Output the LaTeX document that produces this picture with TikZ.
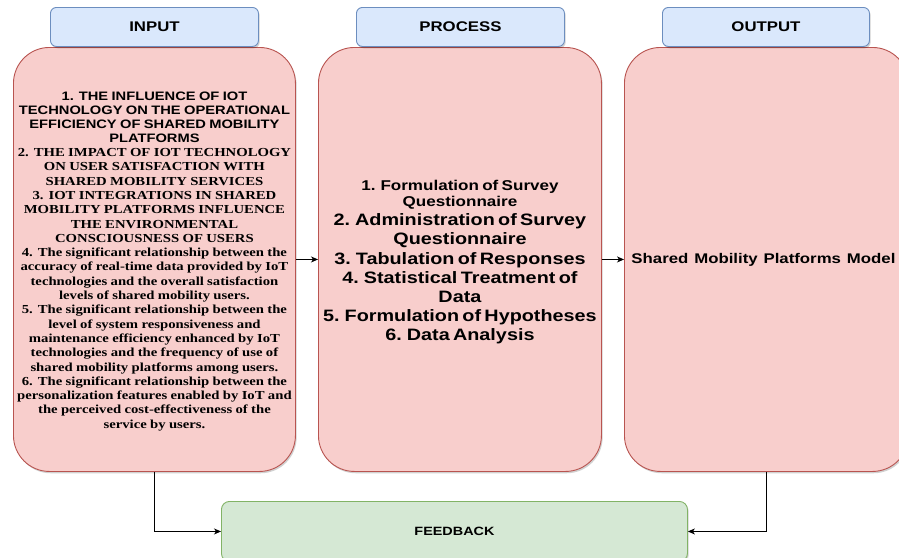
\documentclass[tikz,border=0pt]{standalone}
\usepackage{fontspec}
\usetikzlibrary{arrows.meta,shadows}
\newfontfamily\sansf[FakeStretch=1.2,WordSpace=1.25]{Liberation Sans}
\newfontfamily\serff[FakeStretch=1.2,WordSpace=1.2]{Liberation Serif}
\definecolor{hdrfill}{HTML}{DAE8FC}
\definecolor{hdrline}{HTML}{6C8EBF}
\definecolor{pinkfill}{HTML}{F8CECC}
\definecolor{pinkline}{HTML}{B85450}
\definecolor{grnfill}{HTML}{D5E8D4}
\definecolor{grnline}{HTML}{82B366}
\begin{document}
\begin{tikzpicture}[x=1pt,y=-1pt,
  softshadow/.style={drop shadow={shadow xshift=1.2pt, shadow yshift=-1.8pt, opacity=0.18, fill=black}},
  hdrbox/.style={draw=hdrline, fill=hdrfill, rounded corners=6pt, line width=0.9pt,
    minimum width=208pt, minimum height=39pt, inner sep=0pt, anchor=north west, softshadow,
    font=\sansf\bfseries\fontsize{14}{16}\selectfont},
  pinkbox/.style={draw=pinkline, fill=pinkfill, rounded corners=36pt, line width=0.9pt,
    inner sep=0pt, anchor=north west, minimum height=424pt, softshadow},
  grnbox/.style={draw=grnline, fill=grnfill, rounded corners=8pt, line width=0.9pt,
    inner sep=0pt, anchor=north west, minimum width=466pt, minimum height=60pt, softshadow,
    font=\sansf\bfseries\fontsize{12}{14}\selectfont},
  txt/.style={align=center, inner sep=0pt},
  arr/.style={draw=black, line width=0.9pt, -{Stealth[length=7pt,width=6pt,inset=2pt]}}]
\useasboundingbox (0,0) rectangle (899,557);
\clip (0,0) rectangle (899,557);

% main boxes
\node[pinkbox, minimum width=282pt] (inp) at (13,47) {};
\node[pinkbox, minimum width=283pt] (proc) at (318,47) {};
\node[pinkbox, minimum width=284pt] (out) at (624,47) {};

% headers
\node[hdrbox] (hin) at (50,7) {INPUT};
\node[hdrbox] (hproc) at (356,7) {PROCESS};
\node[hdrbox, minimum width=207pt] (hout) at (662,7) {OUTPUT};

% feedback
\node[grnbox] (fb) at (221,501) {FEEDBACK};

% texts
\node[txt, text width=330pt] (inptxt) at ([yshift=-2pt]inp.center) {%
{\sansf\bfseries\fontsize{12.25}{13.9}\selectfont 1. THE INFLUENCE OF IOT\\
TECHNOLOGY ON THE OPERATIONAL\\
EFFICIENCY OF SHARED MOBILITY\\
PLATFORMS\par}%
{\serff\bfseries\fontsize{12.25}{14.3}\selectfont 2. THE IMPACT OF IOT TECHNOLOGY\\
ON USER SATISFACTION WITH\\
SHARED MOBILITY SERVICES\\
3. IOT INTEGRATIONS IN SHARED\\
MOBILITY PLATFORMS INFLUENCE\\
THE ENVIRONMENTAL\\
CONSCIOUSNESS OF USERS\\
4. The significant relationship between the\\
accuracy of real-time data provided by IoT\\
technologies and the overall satisfaction\\
levels of shared mobility users.\\
5. The significant relationship between the\\
level of system responsiveness and\\
maintenance efficiency enhanced by IoT\\
technologies and the frequency of use of\\
shared mobility platforms among users.\\
6. The significant relationship between the\\
personalization features enabled by IoT and\\
the perceived cost-effectiveness of the\\
service by users.\par}};

\node[txt, text width=320pt] (proctxt) at ([yshift=-3pt]proc.center) {%
{\sansf\bfseries\fontsize{14.2}{15.7}\selectfont 1. Formulation of Survey\\
Questionnaire\par}%
{\sansf\bfseries\fontsize{16.5}{19.2}\selectfont 2. Administration of Survey\\
Questionnaire\\
3. Tabulation of Responses\\
4. Statistical Treatment of\\
Data\\
5. Formulation of Hypotheses\\
6. Data Analysis\par}};

\node[txt, font=\sansf\bfseries\fontsize{14}{16}\selectfont] (outtxt) at ([xshift=-3pt]out.center) {Shared Mobility Platforms Model};

% connectors
\draw[arr] (inp.east) -- (proc.west);
\draw[arr] (proc.east) -- (out.west);
\draw[arr] (inp.south) |- (fb.west);
\draw[arr] (out.south) |- (fb.east);
\end{tikzpicture}
\end{document}
